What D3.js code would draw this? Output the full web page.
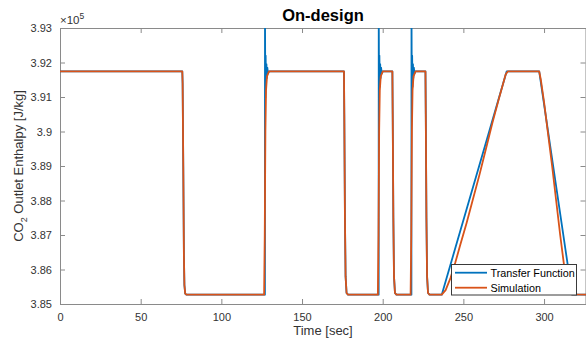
<!DOCTYPE html>
<html>
<head>
<meta charset="utf-8">
<script src="https://cdn.jsdelivr.net/npm/d3@7/dist/d3.min.js"></script>
<style>
  html, body { margin: 0; padding: 0; background: #fff; }
  svg { display: block; font-family: "Liberation Sans", Arial, Helvetica, sans-serif; }
</style>
</head>
<body>
<svg id="chart" width="586" height="339"></svg>
<script>
// Outlet enthalpy of CO2 during on-design load steps [J/kg] versus time [s]

// Transfer function response
const tfTime = [
  0, 75.8, 76.0, 76.4, 76.8, 77.1, 77.6, 78.3,
  127.0, 127.05, 127.25, 127.45, 127.7, 127.95, 128.2, 128.5, 128.9, 129.5,
  176.0, 176.2, 176.6, 177.0, 177.6, 178.5,
  197.5, 197.55, 197.75, 197.95, 198.2, 198.45, 198.7, 199.0, 199.4, 200.0,
  206.0, 206.2, 206.6, 207.0, 207.6, 208.5,
  217.8, 217.85, 218.05, 218.25, 218.5, 218.75, 219.0, 219.3, 219.7, 220.3,
  226.5, 226.7, 227.1, 227.5, 228.1, 229.0,
  236.6, 276.8, 297.0, 317.4, 326.0
];
const tfValue = [
  391740, 391740, 391400, 389000, 386400, 385550, 385300, 385270,
  385270, 393500, 390970, 392200, 391300, 391950, 391550, 391850, 391680, 391740,
  391740, 390500, 387500, 385800, 385320, 385270,
  385270, 393500, 390970, 392200, 391300, 391950, 391550, 391850, 391680, 391740,
  391740, 390500, 387500, 385800, 385320, 385270,
  385270, 393500, 390970, 392200, 391300, 391950, 391550, 391850, 391680, 391740,
  391740, 390500, 387500, 385800, 385320, 385270,
  385270, 391740, 391740, 385270, 385270
];

// Plant simulation response
const simTime = [
  0, 75.8, 76.0, 76.4, 76.8, 77.1, 77.6, 78.3,
  126.5, 126.9, 127.3, 127.7, 128.3, 129.5,
  176.0, 176.2, 176.6, 177.0, 177.6, 178.5,
  197.0, 197.4, 197.8, 198.2, 198.8, 200.0,
  206.0, 206.2, 206.6, 207.0, 207.6, 208.5,
  217.3, 217.7, 218.1, 218.5, 219.1, 220.3,
  226.5, 226.7, 227.1, 227.5, 228.1, 229.0,
  236.6, 239.0, 242.0, 245.0, 248.0, 252.0, 256.0, 260.0, 264.0, 268.0, 272.0, 275.0, 276.2, 277.5,
  297.0, 298.0, 300.0, 305.0, 310.0, 313.0, 315.0, 317.0, 326.0
];
const simValue = [
  391740, 391740, 391400, 389000, 386400, 385550, 385300, 385270,
  385270, 387000, 390000, 391200, 391600, 391740,
  391740, 390500, 387500, 385800, 385320, 385270,
  385270, 387000, 390000, 391200, 391600, 391740,
  391740, 390500, 387500, 385800, 385320, 385270,
  385270, 387000, 390000, 391200, 391600, 391740,
  391740, 390500, 387500, 385800, 385320, 385270,
  385270, 385400, 385750, 386200, 386700, 387350, 388050, 388750, 389500, 390250, 390950, 391450, 391650, 391740,
  391740, 391500, 390850, 389000, 387000, 385900, 385400, 385280, 385270
];

const xTicks = [0, 50, 100, 150, 200, 250, 300];
const yTicks = [385000, 386000, 387000, 388000, 389000, 390000, 391000, 392000, 393000];
const yTickLabels = ["3.85", "3.86", "3.87", "3.88", "3.89", "3.9", "3.91", "3.92", "3.93"];

const seriesNames = ["Transfer Function", "Simulation"];
const seriesColors = ["#0072BD", "#D95319"];

const svg = d3.select("#chart");
const mLeft = 60, mRight = 586, mTop = 28, mBottom = 304;

const x = d3.scaleLinear().domain([0, 326]).range([mLeft, mRight]);
const y = d3.scaleLinear().domain([385000, 393000]).range([mBottom, mTop]);

const axisColor = "#8a8a8a";
const textColor = "#333";

// plot area clip
svg.append("defs").append("clipPath").attr("id", "plotClip")
  .append("rect").attr("x", mLeft).attr("y", mTop)
  .attr("width", mRight - mLeft).attr("height", mBottom - mTop);

// axes with inward ticks (box on)
const tickLen = 5;
const fmtY = (d) => yTickLabels[yTicks.indexOf(d)];

const gx = svg.append("g").attr("transform", `translate(0,${mBottom})`)
  .call(d3.axisBottom(x).tickValues(xTicks).tickSize(-tickLen).tickPadding(9).tickFormat(d3.format("d")));
const gxTop = svg.append("g").attr("transform", `translate(0,${mTop})`)
  .call(d3.axisTop(x).tickValues(xTicks).tickSize(-tickLen).tickFormat(""));
const gy = svg.append("g").attr("transform", `translate(${mLeft},0)`)
  .call(d3.axisLeft(y).tickValues(yTicks).tickSize(-tickLen).tickPadding(8).tickFormat(fmtY));
const gyRight = svg.append("g").attr("transform", `translate(${mRight - 0.5},0)`)
  .call(d3.axisRight(y).tickValues(yTicks).tickSize(-tickLen).tickFormat(""));

[gx, gxTop, gy, gyRight].forEach(g => {
  g.select(".domain").attr("stroke", axisColor).attr("stroke-width", 1);
  g.selectAll(".tick line").attr("stroke", axisColor).attr("stroke-width", 1);
  g.selectAll(".tick text").attr("fill", textColor)
    .style("font-size", "11px")
    .style("font-family", "'Liberation Sans', Arial, sans-serif");
});

// series lines
const line = d3.line().x(d => x(d[0])).y(d => y(d[1]));
const tfData = tfTime.map((t, i) => [t, tfValue[i]]);
const simData = simTime.map((t, i) => [t, simValue[i]]);

const plot = svg.append("g").attr("clip-path", "url(#plotClip)");
[tfData, simData].forEach((data, i) => {
  plot.append("path").datum(data)
    .attr("fill", "none")
    .attr("stroke", seriesColors[i])
    .attr("stroke-width", 1.8)
    .attr("stroke-linejoin", "round")
    .attr("d", line);
});

// exponent label
const expo = svg.append("text").attr("x", mLeft).attr("y", 24)
  .attr("fill", textColor).style("font-size", "11.5px");
expo.append("tspan").text("\u00d710");
expo.append("tspan").attr("dy", -5).style("font-size", "8.5px").text("5");

// title
svg.append("text").attr("x", (mLeft + mRight) / 2).attr("y", 21)
  .attr("text-anchor", "middle").attr("fill", "#000")
  .style("font-size", "16.5px").style("font-weight", "bold")
  .text("On-design");

// x label
svg.append("text").attr("x", (mLeft + mRight) / 2).attr("y", 335)
  .attr("text-anchor", "middle").attr("fill", textColor)
  .style("font-size", "13px").text("Time [sec]");

// y label with subscript
const yl = svg.append("text")
  .attr("transform", `translate(23,${(mTop + mBottom) / 2}) rotate(-90)`)
  .attr("text-anchor", "middle").attr("fill", textColor)
  .style("font-size", "13px");
yl.append("tspan").text("CO");
yl.append("tspan").attr("dy", 4).style("font-size", "9px").text("2");
yl.append("tspan").attr("dy", -4).text(" Outlet Enthalpy [J/kg]");

// legend
const lg = svg.append("g");
lg.append("rect").attr("x", 451.5).attr("y", 264.5).attr("width", 125).attr("height", 30.5)
  .attr("fill", "#fff").attr("stroke", "#3a3a3a").attr("stroke-width", 1);
seriesNames.forEach((name, i) => {
  const cy = 272.7 + i * 15;
  lg.append("line").attr("x1", 455).attr("x2", 487).attr("y1", cy).attr("y2", cy)
    .attr("stroke", seriesColors[i]).attr("stroke-width", 1.8);
  lg.append("text").attr("x", 490.5).attr("y", cy + 3.8)
    .attr("fill", "#000").style("font-size", "10.8px").text(name);
});
</script>
</body>
</html>
